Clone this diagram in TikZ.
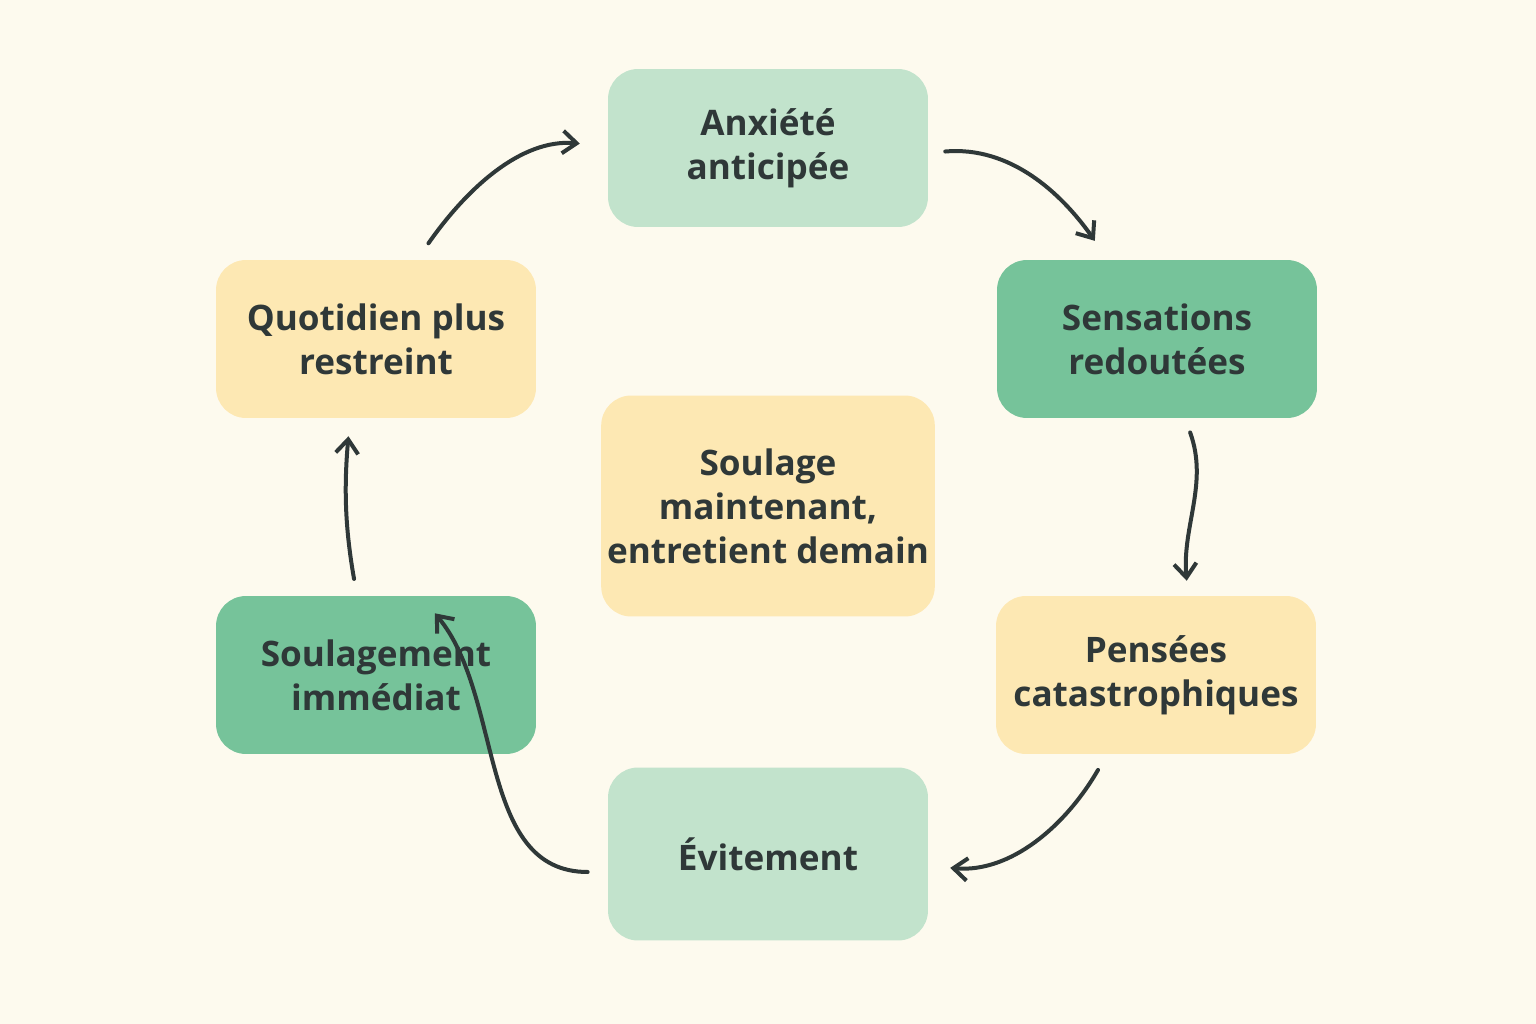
\documentclass[tikz,border=0pt]{standalone}
\usepackage{fontspec}
\setmainfont{Open Sans}
\usetikzlibrary{positioning,arrows.meta,calc}
\definecolor{bgcream}{HTML}{FDFAEE}
\definecolor{lightgreen}{HTML}{C2E3CC}
\definecolor{darkgreen}{HTML}{76C39A}
\definecolor{softyellow}{HTML}{FDE8B3}
\definecolor{inkgray}{HTML}{2F3838}
\tikzset{
  stage/.style={rounded corners=0.6cm, minimum width=6.4cm, minimum height=3.16cm,
    align=center, text=inkgray, font=\fontsize{20}{25}\selectfont\bfseries},
  loop arrow/.style={-{Straight Barb[length=0.28cm,width=0.45cm]}, line width=0.08cm, draw=inkgray, line cap=round}
}
\begin{document}
\begin{tikzpicture}[x=0.02cm,y=-0.02cm]
  % fond
  \fill[bgcream] (0,0) rectangle (1536,1024);
  \useasboundingbox (0,0) rectangle (1536,1024);

  % etapes du cycle
  \node[stage, fill=lightgreen] (anxiete) at (768,148) {Anxiété\\anticipée};
  \node[stage, fill=darkgreen] (sensations) at (1157,339) {Sensations\\redoutées};
  \node[stage, fill=softyellow] (pensees) at (1156,675) {Pensées\\catastrophiques};
  \node[stage, fill=lightgreen, minimum height=3.46cm] (evitement) at (768,854) {Évitement};
  \node[stage, fill=darkgreen] (soulagement) at (376,675) {Soulagement\\immédiat};
  \node[stage, fill=softyellow] (quotidien) at (376,339) {Quotidien plus\\restreint};

  % centre
  \node[stage, fill=softyellow, minimum height=4.42cm] (centre) at (768,506) {Soulage\\maintenant,\\entretient demain};

  % fleches
  \draw[loop arrow, shorten <=0.34cm, shorten >=0.46cm] ([yshift=-0.1cm]anxiete.east) to[out=5,in=125] ([xshift=-0.98cm]sensations.north);
  \draw[loop arrow, shorten <=0.3cm, shorten >=0.3cm] ([xshift=0.56cm]sensations.south) to[out=-70,in=95] ([xshift=0.64cm]pensees.north);
  \draw[loop arrow, shorten <=0.36cm, shorten >=0.44cm] ([xshift=-0.98cm]pensees.south) to[out=-120,in=-5] ([yshift=-0.24cm]evitement.east);
  \draw[loop arrow, shorten <=0.4cm, shorten >=0.46cm] ([yshift=-0.36cm]evitement.west) to[out=180,in=-50] ([xshift=0.88cm]soulagement.north);
  \draw[loop arrow, shorten <=0.34cm, shorten >=0.36cm] ([xshift=-0.38cm]soulagement.north) to[out=100,in=-95] ([xshift=-0.52cm]quotidien.south);
  \draw[loop arrow, shorten <=0.4cm, shorten >=0.56cm] ([xshift=0.82cm]quotidien.north) to[out=55,in=175] ([yshift=0.04cm]anxiete.west);
\end{tikzpicture}
\end{document}
